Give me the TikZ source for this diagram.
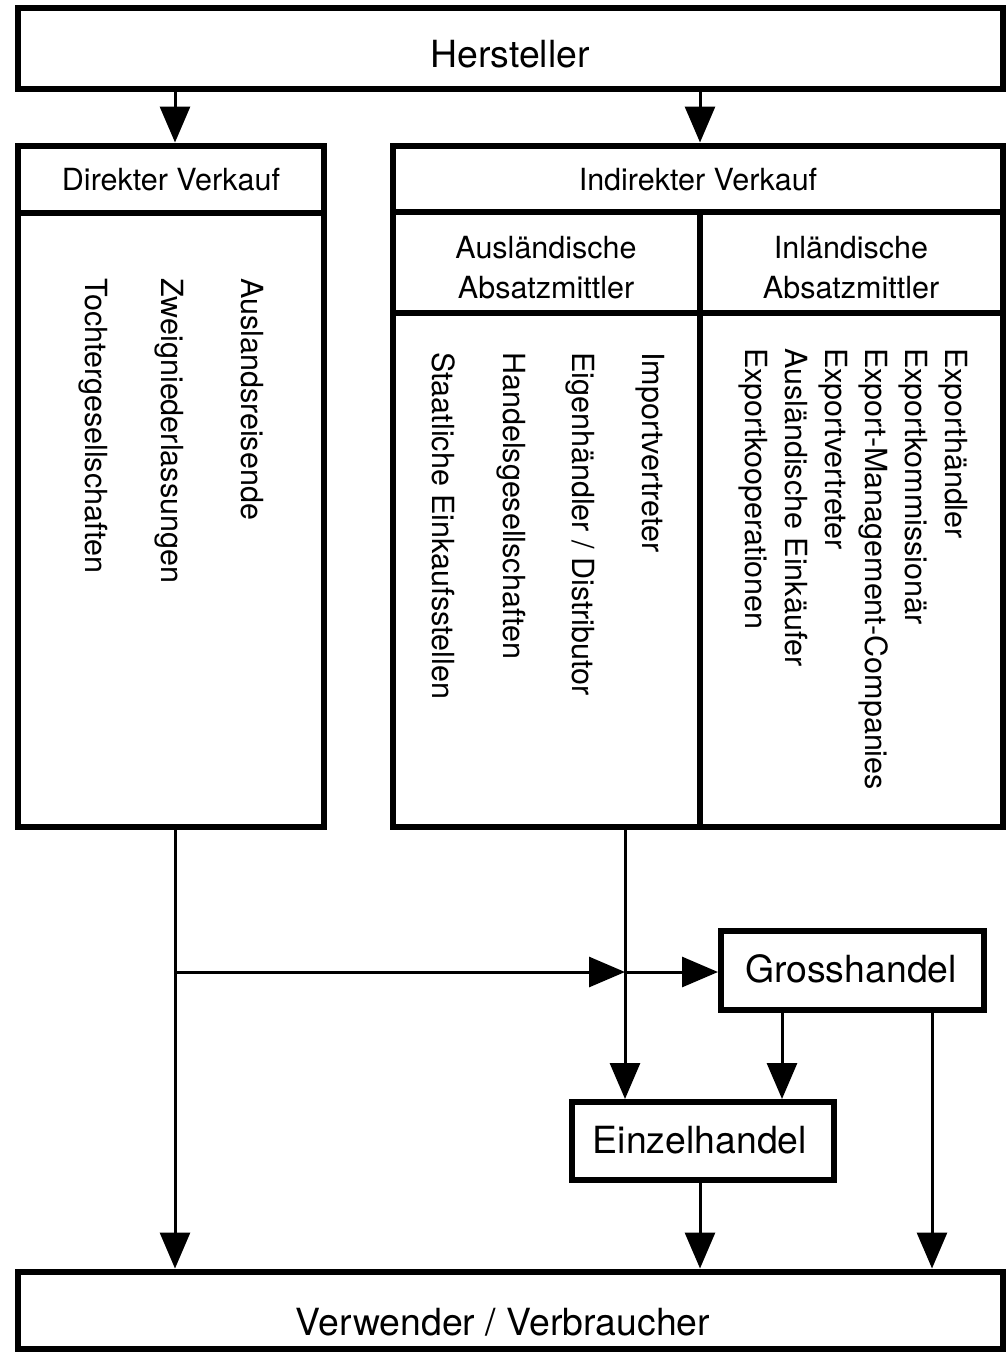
\documentclass[tikz,border=0pt]{standalone}
\usepackage{fontspec}
\setmainfont{TeX Gyre Heros}
\usetikzlibrary{arrows.meta}
\tikzset{
  box/.style={draw, line width=6pt, inner sep=0pt, line join=miter},
  divider/.style={line width=6pt},
  conn/.style={line width=3pt, -{Triangle[length=36pt,width=30pt]}},
  big/.style={inner sep=0pt, anchor=base, font=\fontsize{37.4}{40}\selectfont},
  small/.style={inner sep=0pt, anchor=base, font=\fontsize{30.5}{40}\selectfont},
  vtext/.style={inner sep=0pt, anchor=base west, rotate=-90, font=\fontsize{30.5}{40}\selectfont},
}
\begin{document}
\begin{tikzpicture}[x=1pt,y=-1pt]
\useasboundingbox (0,0) rectangle (1007,1352);
% boxes
\node[box, minimum width=985pt, minimum height=81pt] (her) at (510.5,48.5) {};
\node[box, minimum width=306pt, minimum height=681.5pt] (dv) at (171,486.25) {};
\node[box, minimum width=610pt, minimum height=681.5pt] (iv) at (698,486.25) {};
\node[box, minimum width=263pt, minimum height=79pt] (gross) at (852.5,970.5) {};
\node[box, minimum width=262pt, minimum height=78pt] (einzel) at (703,1141) {};
\node[box, minimum width=985pt, minimum height=77.5pt] (verw) at (510.5,1310.25) {};
% dividers
\coordinate (dvh) at (0,213);
\coordinate (ivh) at (0,212);
\coordinate (ivs) at (0,313);
\coordinate (ivv) at (700,0);
\draw[divider] (dv.west |- dvh) -- (dv.east |- dvh);
\draw[divider] (iv.west |- ivh) -- (iv.east |- ivh);
\draw[divider] (iv.west |- ivs) -- (iv.east |- ivs);
\draw[divider] (ivv |- ivh) -- (ivv |- iv.south);
% texts
\node[big] (t-her) at (510,67) {Hersteller};
\node[small] (t-dv) at (171,190) {Direkter Verkauf};
\node[small] (t-iv) at (698,190) {Indirekter Verkauf};
\node[small] (t-aus1) at (546,258) {Ausländische};
\node[small] (t-aus2) at (546,298) {Absatzmittler};
\node[small] (t-inl1) at (851,258) {Inländische};
\node[small] (t-inl2) at (851,298) {Absatzmittler};
\node[big] (t-gross) at (851,982) {Grosshandel};
\node[big] (t-einzel) at (700,1153) {Einzelhandel};
\node[big] (t-verw) at (503,1335) {Verwender / Verbraucher};
% vertical lists
\node[vtext] (l1) at (241,278) {Auslandsreisende};
\node[vtext] (l2) at (161,278) {Zweigniederlassungen};
\node[vtext] (l3) at (85,278) {Tochtergesellschaften};
\node[vtext] (m1) at (642,352) {Importvertreter};
\node[vtext] (m2) at (572,352) {Eigenhändler / Distributor};
\node[vtext] (m3) at (503,352) {Handelsgesellschaften};
\node[vtext] (m4) at (432,352) {Staatliche Einkaufsstellen};
\node[vtext] (r1) at (945,348) {Exporthändler};
\node[vtext] (r2) at (905,348) {Exportkommissionär};
\node[vtext] (r3) at (865,348) {Export-Management-Companies};
\node[vtext] (r4) at (825,348) {Exportvertreter};
\node[vtext] (r5) at (785,348) {Ausländische Einkäufer};
\node[vtext] (r6) at (745,348) {Exportkooperationen};
% connector columns
\coordinate (xa) at (175,0);
\coordinate (xb) at (700,0);
\coordinate (xc) at (625,0);
\coordinate (xd) at (782,0);
\coordinate (xe) at (932,0);
\coordinate (xf) at (700,0);
\coordinate (jl) at (175,972);
\coordinate (jc) at (625,972);
% connectors
\draw[conn] (her.south -| xa) -- (dv.north -| xa);
\draw[conn] (her.south -| xb) -- (iv.north -| xb);
\draw[conn] (dv.south -| xa) -- (verw.north -| xa);
\draw[conn] (jl) -- (jc);
\draw[conn] (jc) -- (gross.west |- jc);
\draw[conn] (iv.south -| xc) -- (einzel.north -| xc);
\draw[conn] (gross.south -| xd) -- (einzel.north -| xd);
\draw[conn] (gross.south -| xe) -- (verw.north -| xe);
\draw[conn] (einzel.south -| xf) -- (verw.north -| xf);
\end{tikzpicture}
\end{document}
